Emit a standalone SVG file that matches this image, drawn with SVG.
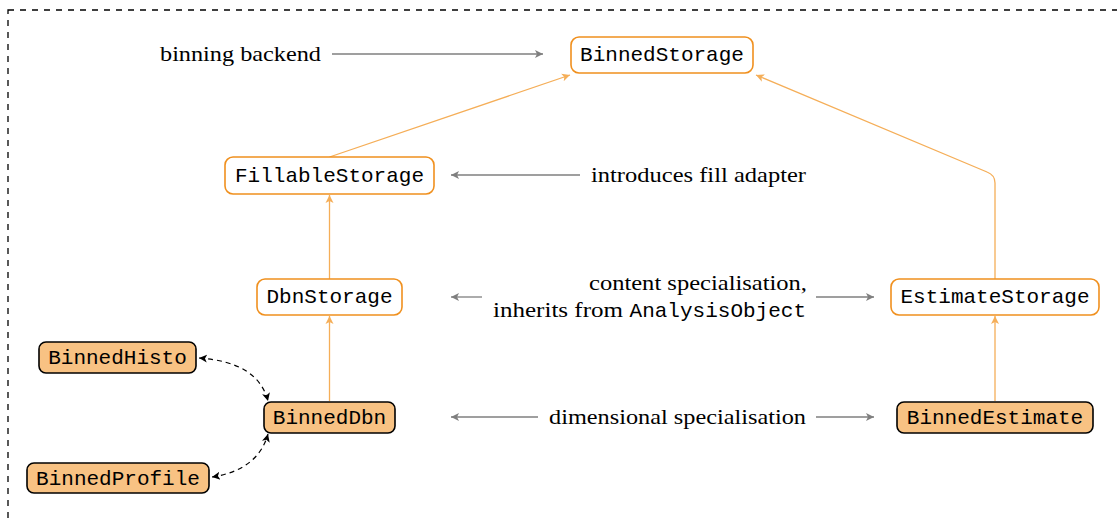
<svg xmlns="http://www.w3.org/2000/svg" width="1117" height="523" viewBox="0 0 1117 523">
<style>
.frame{fill:none;stroke:#000;stroke-width:1.3;stroke-dasharray:6 6}
.box{fill:#fff;stroke:#F0901E;stroke-width:1.6}
.fbox{fill:#F8C283;stroke:#000;stroke-width:1.6}
.mono{font-family:"Liberation Mono","DejaVu Sans Mono",monospace;font-size:21px;fill:#000}
.serif{font-family:"Liberation Serif","DejaVu Serif",serif;font-size:22px;fill:#000}
.inh{fill:none;stroke:#F5AE58;stroke-width:1.3}
.gray{fill:none;stroke:#7f7f7f;stroke-width:1.3}
.dash{fill:none;stroke:#000;stroke-width:1.2;stroke-dasharray:5 4}
</style>
<defs>
<marker id="ao" markerUnits="userSpaceOnUse" markerWidth="12" markerHeight="12" refX="8" refY="5" orient="auto">
<path d="M0,1 L8,5 L0,9 L2,5 Z" fill="#F5AE58"/>
</marker>
<marker id="ag" markerUnits="userSpaceOnUse" markerWidth="12" markerHeight="12" refX="8" refY="5" orient="auto">
<path d="M0,1 L8,5 L0,9 L2,5 Z" fill="#7f7f7f"/>
</marker>
<marker id="ab" markerUnits="userSpaceOnUse" markerWidth="12" markerHeight="12" refX="8" refY="5" orient="auto-start-reverse">
<path d="M0,1 L8,5 L0,9 L2,5 Z" fill="#000"/>
</marker>
</defs>
<rect class="frame" x="8" y="10" width="1130" height="540"/>
<g id="connectors">
<line class="inh" x1="329.5" y1="157" x2="570" y2="75" marker-end="url(#ao)"/>
<path class="inh" d="M995,279 L995,183 Q995,175 987,172 L756,75" marker-end="url(#ao)"/>
<line class="inh" x1="329.5" y1="279" x2="329.5" y2="195" marker-end="url(#ao)"/>
<line class="inh" x1="329.5" y1="401" x2="329.5" y2="316" marker-end="url(#ao)"/>
<line class="inh" x1="995" y1="401" x2="995" y2="316" marker-end="url(#ao)"/>
<line class="gray" x1="332" y1="54" x2="543" y2="54" marker-end="url(#ag)"/>
<line class="gray" x1="580" y1="175" x2="451" y2="175" marker-end="url(#ag)"/>
<line class="gray" x1="482" y1="297" x2="451" y2="297" marker-end="url(#ag)"/>
<line class="gray" x1="816" y1="297" x2="874" y2="297" marker-end="url(#ag)"/>
<line class="gray" x1="538" y1="417" x2="451" y2="417" marker-end="url(#ag)"/>
<line class="gray" x1="816" y1="417" x2="874" y2="417" marker-end="url(#ag)"/>
<path class="dash" d="M199,358 Q258,362 268,401" marker-start="url(#ab)" marker-end="url(#ab)"/>
<path class="dash" d="M212,477 Q258,470 268,434" marker-start="url(#ab)" marker-end="url(#ab)"/>
</g>
<g id="BinnedStorage"><rect class="box" x="571" y="37" width="182" height="36" rx="8"/><text class="mono" x="662" y="61" text-anchor="middle">BinnedStorage</text></g>
<g id="FillableStorage"><rect class="box" x="225" y="157" width="209" height="37" rx="8"/><text class="mono" x="329.5" y="182" text-anchor="middle">FillableStorage</text></g>
<g id="DbnStorage"><rect class="box" x="257" y="279" width="145" height="36" rx="8"/><text class="mono" x="329.5" y="303" text-anchor="middle">DbnStorage</text></g>
<g id="EstimateStorage"><rect class="box" x="891" y="279" width="208" height="36" rx="8"/><text class="mono" x="995" y="303" text-anchor="middle">EstimateStorage</text></g>
<g id="BinnedDbn"><rect class="fbox" x="264" y="402" width="131" height="31" rx="7"/><text class="mono" x="329.5" y="424" text-anchor="middle">BinnedDbn</text></g>
<g id="BinnedEstimate"><rect class="fbox" x="897" y="402" width="196" height="31" rx="7"/><text class="mono" x="995" y="424" text-anchor="middle">BinnedEstimate</text></g>
<g id="BinnedHisto"><rect class="fbox" x="39" y="342" width="157" height="31" rx="7"/><text class="mono" x="117.5" y="364" text-anchor="middle">BinnedHisto</text></g>
<g id="BinnedProfile"><rect class="fbox" x="27" y="463" width="182" height="30" rx="7"/><text class="mono" x="118" y="485" text-anchor="middle">BinnedProfile</text></g>
<g id="labels">
<text class="serif" x="160" y="61" textLength="161" lengthAdjust="spacingAndGlyphs">binning backend</text>
<text class="serif" x="591" y="182" textLength="215" lengthAdjust="spacingAndGlyphs">introduces fill adapter</text>
<text class="serif" x="589" y="290" textLength="218" lengthAdjust="spacingAndGlyphs">content specialisation,</text>
<text class="serif" x="493" y="317" textLength="130" lengthAdjust="spacingAndGlyphs">inherits from</text>
<text class="mono" x="806" y="317" text-anchor="end">AnalysisObject</text>
<text class="serif" x="549" y="424" textLength="257" lengthAdjust="spacingAndGlyphs">dimensional specialisation</text>
</g>
</svg>
